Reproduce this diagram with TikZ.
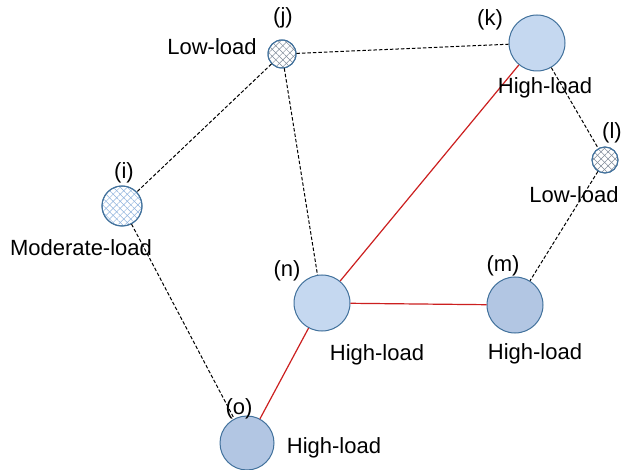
\documentclass[tikz,border=0pt]{standalone}
\usepackage{fontspec}
\setmainfont{Liberation Sans}
\usetikzlibrary{patterns.meta}
\definecolor{nodeborder}{HTML}{41719C}
\definecolor{lightfill}{HTML}{C5D8F0}
\definecolor{darkfill}{HTML}{B2C6E3}
\definecolor{hatchlight}{HTML}{8FB3DD}
\definecolor{hatchdark}{HTML}{7F8A99}
\definecolor{redline}{HTML}{CC1F1F}
\tikzset{
  bignode/.style={circle, draw=nodeborder, line width=1pt, minimum size=56pt, inner sep=0pt},
  hatchnode/.style={circle, draw=nodeborder, line width=1pt, inner sep=0pt},
  lbl/.style={font=\fontsize{22}{26}\selectfont, inner sep=0pt, anchor=center},
  weak/.style={black, line width=1pt, dash pattern=on 3.5pt off 2pt},
  strong/.style={redline, line width=1.2pt}
}
\newcommand{\hatchit}[3]{%
  \path[pattern={Lines[angle=45,distance=5pt,line width=0.5pt]}, pattern color=#3] (#1) circle (#2);
  \path[pattern={Lines[angle=-45,distance=5pt,line width=0.5pt]}, pattern color=#3] (#1) circle (#2);
}
\begin{document}
\begin{tikzpicture}[x=1pt,y=-1pt]
\useasboundingbox (0,0) rectangle (621,470);
\fill[white] (0,0) rectangle (621,470);

% nodes
\node[hatchnode, minimum size=28pt, fill=white] (j) at (282,54) {};
\node[hatchnode, minimum size=40pt, fill=white] (i) at (122,206) {};
\node[hatchnode, minimum size=26pt, fill=white] (l) at (605,160) {};
\node[bignode, fill=lightfill] (k) at (537,43) {};
\node[bignode, fill=lightfill] (n) at (322,303) {};
\node[bignode, fill=darkfill] (m) at (515,305) {};
\node[bignode, fill=darkfill, minimum size=54pt] (o) at (247,443) {};

\hatchit{j}{13.5pt}{hatchdark}
\hatchit{i}{19.5pt}{hatchlight}
\hatchit{l}{12.5pt}{hatchdark}
\draw[nodeborder, line width=1pt] (j) circle (14pt);
\draw[nodeborder, line width=1pt] (i) circle (20pt);
\draw[nodeborder, line width=1pt] (l) circle (13pt);

% edges
\draw[weak] (j) -- (i);
\draw[weak] (j) -- (k);
\draw[weak] (j) -- (n);
\draw[weak] (k) -- (l);
\draw[weak] (l) -- (m);
\draw[weak] (i) -- (o);
\draw[strong] (k) -- (n);
\draw[strong] (n) -- (m);
\draw[strong] (n) -- (o);

% labels
\node[lbl] (jt) at (283,18) {(j)};
\node[lbl] (jl) at (212,47) {Low-load};
\node[lbl] (kt) at (490,20) {(k)};
\node[lbl] (kl) at (545,88) {High-load};
\node[lbl] (lt) at (612,133) {(l)};
\node[lbl] (ll) at (574,195) {Low-load};
\node[lbl] (it) at (124,173) {(i)};
\node[lbl] (il) at (81,248) {Moderate-load};
\node[lbl] (nt) at (287,271) {(n)};
\node[lbl] (nl) at (377,355) {High-load};
\node[lbl] (mt) at (503,266) {(m)};
\node[lbl] (ml) at (535,354) {High-load};
\node[lbl] (ot) at (239,409) {(o)};
\node[lbl] (ol) at (334,448) {High-load};
\end{tikzpicture}
\end{document}
